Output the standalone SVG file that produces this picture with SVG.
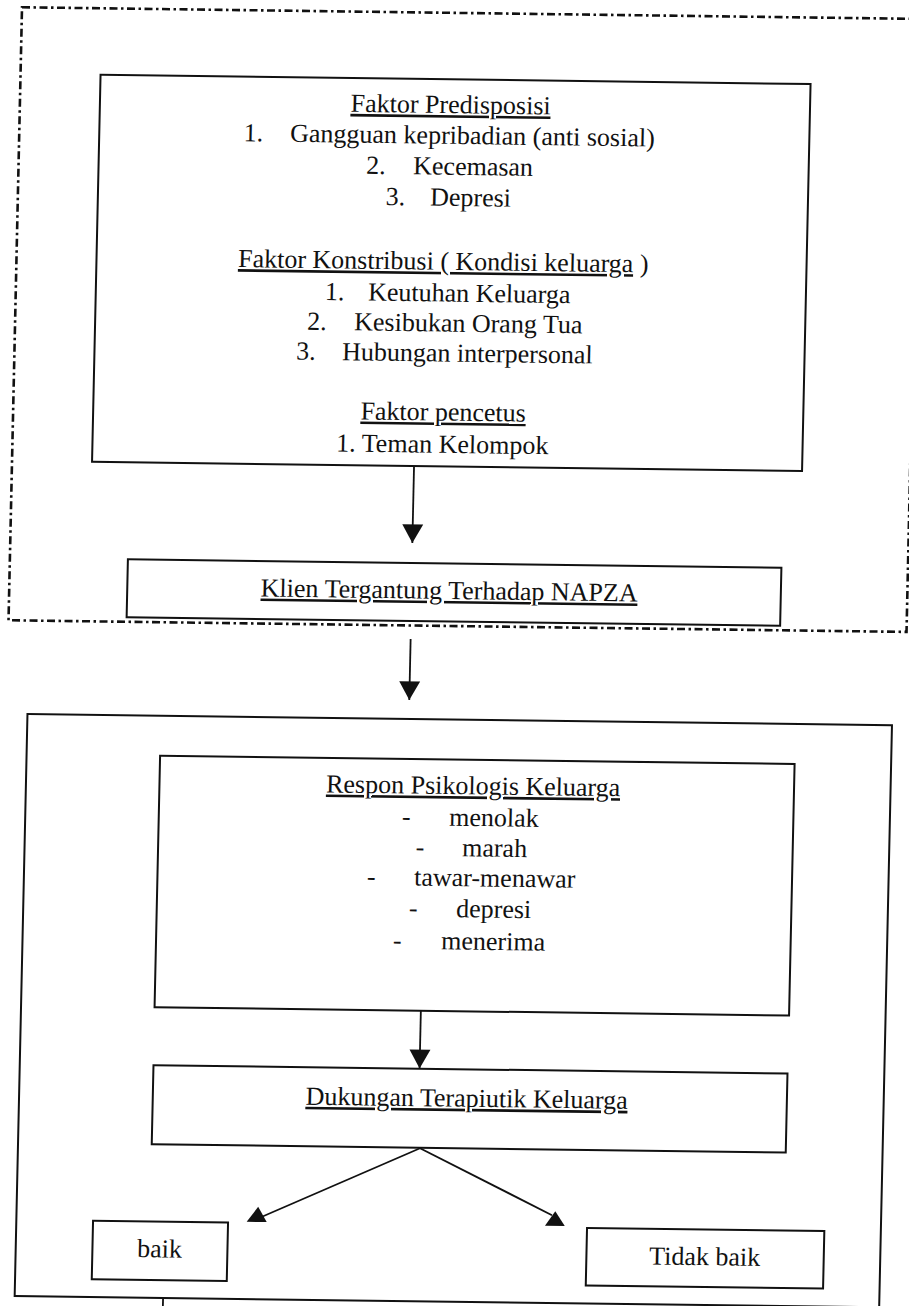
<svg xmlns="http://www.w3.org/2000/svg" width="909" height="1306" viewBox="0 0 909 1306">
<style>
  .box { fill: none; stroke: #111; stroke-width: 2; }
  .dash { fill: none; stroke: #111; stroke-width: 2.6; stroke-dasharray: 8 3.5 2.5 3.5; }
  .t { font-family: "Liberation Serif", "Times New Roman", serif; font-size: 26px; fill: #111; }
  .m { text-anchor: middle; }
  .u { text-decoration: underline; }
  .ln { fill: none; stroke: #111; stroke-width: 1.8; }
  .ah { fill: #111; stroke: none; }
</style>
<defs>
  <marker id="arr" markerUnits="userSpaceOnUse" markerWidth="20" markerHeight="22" viewBox="0 -10 17 20" refX="17" refY="0" orient="auto">
    <path d="M0,-9.5 L17,0 L0,9.5 Z" fill="#111"/>
  </marker>
</defs>
<rect x="0" y="0" width="909" height="1306" fill="#fff"/>
<g transform="matrix(1 0.013 -0.022 1 14.3 -5.85)">
  <g id="group-top">
    <rect class="dash" x="8" y="13" width="898" height="613"/>
  </g>
  <g id="node-faktor">
    <rect class="box" x="88" y="79.5" width="710" height="387"/>
    <text class="t m u" x="438.7" y="113.3">Faktor Predisposisi</text>
    <text class="t" y="144"><tspan x="232.4">1.</tspan><tspan x="278.9">Gangguan kepribadian (anti sosial)</tspan></text>
    <text class="t" y="175"><tspan x="355.6">2.</tspan><tspan x="402.6">Kecemasan</tspan></text>
    <text class="t" y="206"><tspan x="375.7">3.</tspan><tspan x="420.2">Depresi</tspan></text>
    <text class="t" x="229.6" y="270"><tspan class="u">Faktor Konstribusi ( Kondisi keluarga</tspan> )</text>
    <text class="t" y="301.7"><tspan x="317">1.</tspan><tspan x="360.3">Keutuhan Keluarga</tspan></text>
    <text class="t" y="331.7"><tspan x="300">2.</tspan><tspan x="347">Kesibukan Orang Tua</tspan></text>
    <text class="t" y="361.7"><tspan x="289.7">3.</tspan><tspan x="335.7">Hubungan interpersonal</tspan></text>
    <text class="t m u" x="438" y="420.7">Faktor pencetus</text>
    <text class="t" x="331.7" y="453">1. Teman Kelompok</text>
  </g>
  <g id="node-klien">
    <rect class="box" x="126" y="563.5" width="653.5" height="58"/>
    <text class="t m u" x="447.9" y="599">Klien Tergantung Terhadap NAPZA</text>
  </g>
  <g id="group-bottom">
    <rect class="box" x="29" y="719.5" width="864.5" height="582"/>
  </g>
  <g id="node-respon">
    <rect class="box" x="162.5" y="759.5" width="634.5" height="251.5"/>
    <text class="t m u" x="476.2" y="794">Respon Psikologis Keluarga</text>
    <text class="t m" x="409.9" y="825.6">-</text><text class="t" x="452.9" y="825.6">menolak</text>
    <text class="t m" x="424.5" y="856">-</text><text class="t" x="466.5" y="856">marah</text>
    <text class="t m" x="376.2" y="886">-</text><text class="t" x="419.2" y="886">tawar-menawar</text>
    <text class="t m" x="418.9" y="917">-</text><text class="t" x="461.9" y="917">depresi</text>
    <text class="t m" x="403.6" y="949.4">-</text><text class="t" x="447.6" y="949.4">menerima</text>
  </g>
  <g id="node-dukungan">
    <rect class="box" x="162.7" y="1069" width="634" height="79"/>
    <text class="t m u" x="476.5" y="1106.4">Dukungan Terapiutik Keluarga</text>
  </g>
  <g id="node-baik">
    <rect class="box" x="105.7" y="1225.2" width="135" height="58.6"/>
    <text class="t m" x="172.7" y="1261">baik</text>
  </g>
  <g id="node-tidak-baik">
    <rect class="box" x="599.7" y="1226" width="237.3" height="57.5"/>
    <text class="t m" x="718" y="1261.7">Tidak baik</text>
  </g>
  <g id="connectors">
    <line class="ln" x1="410" y1="466.5" x2="410" y2="543.5" marker-end="url(#arr)"/>
    <line class="ln" x1="410.4" y1="639.5" x2="410.4" y2="700.5" marker-end="url(#arr)"/>
    <line class="ln" x1="428.8" y1="1011" x2="428.8" y2="1068.7" marker-end="url(#arr)"/>
    <line class="ln" x1="431" y1="1148.5" x2="274.5" y2="1219"/>
    <polygon class="ah" points="270.5,1209.2 259.3,1224.3 279.3,1224.3"/>
    <line class="ln" x1="431" y1="1148.5" x2="564.4" y2="1213.7"/>
    <polygon class="ah" points="567.6,1209.6 557.6,1224.3 577.4,1224.3"/>
    <line class="ln" x1="177.4" y1="1301.5" x2="177.4" y2="1312"/>
  </g>
</g>
</svg>
